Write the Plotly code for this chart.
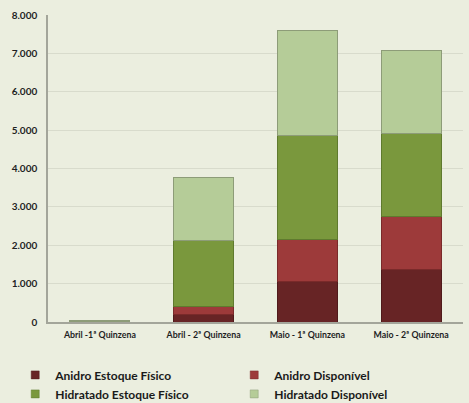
import plotly.graph_objects as go

categories = ["Abril -1ª Quinzena", "Abril - 2ª Quinzena", "Maio - 1ª Quinzena", "Maio - 2ª Quinzena"]
anidro_estoque = [0, 200, 1045, 1365]
anidro_disp = [0, 215, 1115, 1375]
hidratado_estoque = [20, 1715, 2695, 2180]
hidratado_disp = [20, 1640, 2745, 2160]
y_ticks = [0, 1000, 2000, 3000, 4000, 5000, 6000, 7000, 8000]

series = [
    ("Anidro Estoque Físico", anidro_estoque, "#672425", "#4f1a1b"),
    ("Anidro Disponível", anidro_disp, "#9d3a3a", "#7a2a2a"),
    ("Hidratado Estoque Físico", hidratado_estoque, "#7a983d", "#5f7a2e"),
    ("Hidratado Disponível", hidratado_disp, "#b5cc98", "#8d9c78"),
]

fig = go.Figure()
for name, vals, col, line in series:
    fig.add_trace(go.Bar(
        name=name, x=categories, y=vals,
        marker=dict(color=col, line=dict(color=line, width=1)),
        width=0.58, hoverinfo="skip", showlegend=False, legendgroup=name,
    ))
# legend-only entries with small square markers
for name, vals, col, line in series:
    fig.add_trace(go.Scatter(
        name=name, x=[None], y=[None], mode="markers",
        marker=dict(symbol="square", size=8, color=col, line=dict(color=line, width=0.5)),
        showlegend=True, legendgroup=name, hoverinfo="skip",
    ))

font_family = "Lato, 'Open Sans', 'Liberation Sans', sans-serif"
fig.update_layout(
    barmode="stack",
    width=469, height=403,
    margin=dict(l=48, r=6, t=15, b=81, autoexpand=False),
    paper_bgcolor="#ebeedf",
    plot_bgcolor="#ebeedf",
    separators=",.",
    font=dict(family=font_family, color="#1f1f1f"),
    showlegend=True,
    legend=dict(
        orientation="h", traceorder="normal",
        x=-0.079, xanchor="left", y=-0.125, yanchor="top",
        entrywidth=174, entrywidthmode="pixels",
        font=dict(size=12, weight="bold", color="#1a1a1a"),
        itemwidth=30, tracegroupgap=0, bgcolor="rgba(0,0,0,0)",
    ),
    yaxis=dict(
        range=[0, 8000], tickvals=y_ticks, tickformat=",d",
        showgrid=True, gridcolor="#d8dbcc", gridwidth=1,
        showline=True, linecolor="#a3a59a", linewidth=1.5,
        zeroline=False, ticks="", ticklen=0, ticklabelstandoff=7,
        tickfont=dict(size=10, weight="bold", color="#1f1f1f"),
    ),
    xaxis=dict(
        showline=True, linecolor="#a3a59a", linewidth=1.5,
        ticks="", tickfont=dict(size=8.8, weight="bold", color="#1f1f1f"),
        tickangle=0, ticklabelstandoff=4,
    ),
)

fig.write_html("out.html")
